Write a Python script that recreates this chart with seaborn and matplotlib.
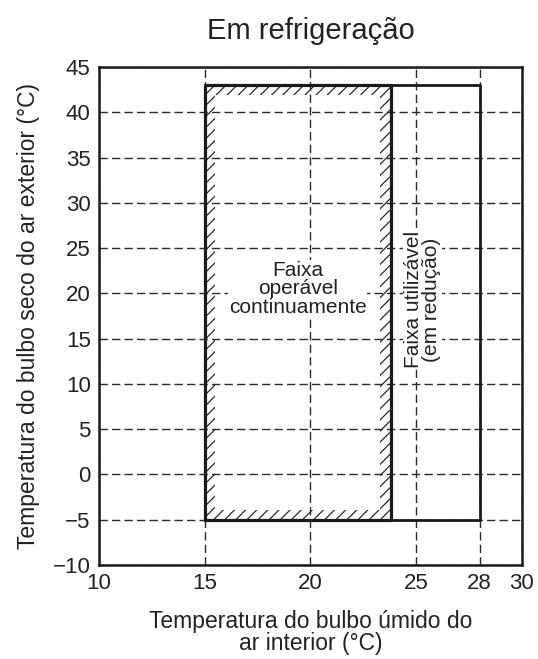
import matplotlib
matplotlib.use("Agg")
import matplotlib.pyplot as plt
from matplotlib.path import Path
from matplotlib.patches import PathPatch
import seaborn as sns
import pandas as pd

# axis ticks
x_ticks = [10, 15, 20, 25, 28, 30]
y_ticks = [-10, -5, 0, 5, 10, 15, 20, 25, 30, 35, 40, 45]

# region bounds (x: indoor wet bulb, y: outdoor dry bulb)
cont_x = [15, 23.8]
cont_y = [-5, 43]
usable_x = [15, 28]
usable_y = [-5, 43]
band_dx = 0.5
band_dy = 1.1

sns.set_style("white")
plt.rcParams['font.family'] = ['Liberation Sans', 'DejaVu Sans']
plt.rcParams['hatch.linewidth'] = 0.9

fig = plt.figure(figsize=(5.38, 6.59), dpi=100)
ax = fig.add_axes([0.184, 0.1426, 0.786, 0.7557])

# outlines as closed polylines
def box(xs, ys):
    return pd.DataFrame({"x": [xs[0], xs[1], xs[1], xs[0], xs[0]],
                         "y": [ys[0], ys[0], ys[1], ys[1], ys[0]]})

sns.lineplot(data=box(usable_x, usable_y), x="x", y="y", sort=False,
             estimator=None, color="#1a1a1a", lw=2.0, ax=ax, zorder=4)
sns.lineplot(data=box(cont_x, cont_y), x="x", y="y", sort=False,
             estimator=None, color="#1a1a1a", lw=2.3, ax=ax, zorder=5)

# hatched band inside the continuous region
ox0, ox1 = cont_x
oy0, oy1 = cont_y
ix0, ix1 = ox0 + band_dx, ox1 - band_dx
iy0, iy1 = oy0 + band_dy, oy1 - band_dy
verts = [(ox0, oy0), (ox1, oy0), (ox1, oy1), (ox0, oy1), (ox0, oy0),
         (ix0, iy0), (ix0, iy1), (ix1, iy1), (ix1, iy0), (ix0, iy0)]
codes = [Path.MOVETO, Path.LINETO, Path.LINETO, Path.LINETO, Path.CLOSEPOLY] * 2
ax.add_patch(PathPatch(Path(verts, codes), facecolor="none", edgecolor="#2a2a2a",
                       hatch="///", lw=0, zorder=3))

ax.set_xlim(x_ticks[0], x_ticks[-1])
ax.set_ylim(y_ticks[0], y_ticks[-1])
ax.set_xticks(x_ticks)
ax.set_yticks(y_ticks)
ax.set_yticklabels([str(v).replace("-", "\u2212") for v in y_ticks])
ax.set_xlabel("")
ax.set_ylabel("")
ax.grid(True, color="#2a2a2a", lw=1.0, linestyle=(0, (6, 3)))
ax.tick_params(length=0, labelsize=16, colors="#222222", pad=6)
for s in ax.spines.values():
    s.set_color("#1a1a1a")
    s.set_linewidth(1.8)

ax.text(19.4, 20.5, "Faixa\noperável\ncontinuamente", ha="center", va="center",
        fontsize=15, color="#222222", linespacing=0.95, zorder=6,
        bbox=dict(facecolor="white", edgecolor="none", pad=0.5))
ax.text(25.3, 19.3, "Faixa utilizável\n(em redução)", ha="center", va="center",
        rotation=90, fontsize=15, color="#222222", linespacing=0.95, zorder=6,
        bbox=dict(facecolor="white", edgecolor="none", pad=0.5))

ax.set_title("Em refrigeração", fontsize=21, color="#222222", pad=20)
ax.set_xlabel("Temperatura do bulbo úmido do\nar interior (°C)", fontsize=16.5,
              color="#222222", labelpad=11, linespacing=0.95)
ax.set_ylabel("Temperatura do bulbo seco do ar exterior (°C)", fontsize=16.5,
              color="#222222", labelpad=9)

fig.savefig("out.png", dpi=100)
